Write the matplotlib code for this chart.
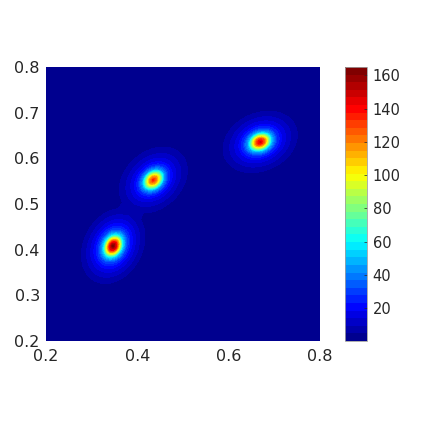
import numpy as np
import matplotlib
matplotlib.use("Agg")
import matplotlib.pyplot as plt
from matplotlib.colors import LinearSegmentedColormap

# values: each peak's centre, height and shape,
# and how far out along the long axis the colour bands reach
peak_x = [0.347, 0.435, 0.669]
peak_y = [0.408, 0.5525, 0.636]
peak_height = [165, 135, 148]
peak_angle = [62, 42, 25]
peak_ratio = [0.74, 0.74, 0.74]

# share of peak height against distance from the centre
profile_dist = [0.0, 0.009, 0.018, 0.026, 0.037, 0.048, 0.06, 0.072, 0.085, 0.10]
profile_share = [1.0, 0.85, 0.58, 0.33, 0.19, 0.125, 0.085, 0.055, 0.03, 0.0]

levels = np.linspace(0.2, 165, 37)
xticks = [0.2, 0.4, 0.6, 0.8]
yticks = [0.2, 0.3, 0.4, 0.5, 0.6, 0.7, 0.8]
cbar_ticks = [20, 40, 60, 80, 100, 120, 140, 160]

jet = LinearSegmentedColormap.from_list("mjet", [
    (0.0, (0, 0, 0.5625)), (0.11, (0, 0, 1)), (0.36, (0, 1, 1)),
    (0.61, (1, 1, 0)), (0.86, (1, 0, 0)), (1.0, (0.5, 0, 0))], N=256)
band_colors = [jet(i) for i in np.linspace(0, 1, len(levels) - 1)]

xs = np.linspace(0.2, 0.8, 600)
X, Y = np.meshgrid(xs, xs)
Z = np.zeros_like(X) + 0.3
for px, py, h, a, ratio in zip(peak_x, peak_y, peak_height, peak_angle, peak_ratio):
    t = np.radians(a)
    u = (X - px) * np.cos(t) + (Y - py) * np.sin(t)
    v = -(X - px) * np.sin(t) + (Y - py) * np.cos(t)
    r = np.sqrt(u ** 2 + (v / ratio) ** 2)
    Z += h * np.interp(r, profile_dist, profile_share)
Z = np.clip(Z, 0.3, 164.9)

fig = plt.figure(figsize=(4.23, 4.23), dpi=100)
ax = fig.add_axes([46 / 423, 1 - 341 / 423, 274 / 423, 274 / 423])
cs = ax.contourf(X, Y, Z, levels=levels, colors=band_colors)
ax.set_xlim(0.2, 0.8)
ax.set_ylim(0.2, 0.8)
ax.set_xticks(xticks)
ax.set_yticks(yticks)
ax.tick_params(labelsize=11.5, length=0, colors="#262626")
ax.tick_params(axis="x", pad=6)
ax.tick_params(axis="y", pad=4.5)
for s in ax.spines.values():
    s.set_visible(False)

cax = fig.add_axes([345 / 423, 1 - 341 / 423, 22 / 423, 274 / 423])
cb = fig.colorbar(cs, cax=cax)
cb.set_ticks(cbar_ticks)
cax.tick_params(labelsize=10.5, direction="in", length=2, width=0.5, colors="#262626", pad=4)
cb.outline.set_edgecolor("#a0a0a0")
cb.outline.set_linewidth(0.6)

fig.savefig("out.png", dpi=100)
